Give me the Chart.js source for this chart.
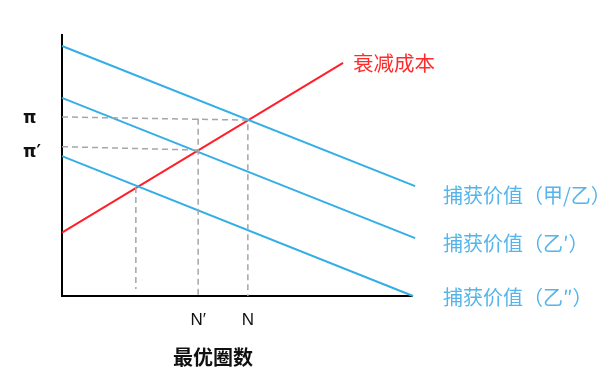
<!DOCTYPE html>
<html>
<head>
<meta charset="utf-8">
<script src="https://cdn.jsdelivr.net/npm/chart.js@4"></script>
<style>
body{margin:0;background:#fff;}
#wrap{width:613px;height:392px;position:relative;}
</style>
</head>
<body>
<div id="wrap"><canvas id="grafico"></canvas></div>
<script>
// ticks of the axes
var xTicks = [3.89, 5.31];
var xTickLabels = ["N′", "N"];
var yTicks = [5.5, 6.8];
var yTickLabels = ["π′", "π"];

// lines (two points each)
var costX = [0, 8.03];
var costY = [2.43, 8.93];
var valAX = [0, 10.09];
var valAY = [9.58, 4.21];
var valBX = [0, 10.09];
var valBY = [7.59, 2.22];
var valCX = [0, 10.03];
var valCY = [5.36, 0];

// dashed guide lines
var guidePiX = [0, 5.31, 5.31];
var guidePiY = [6.86, 6.74, 0];
var guidePi2X = [0, 3.89];
var guidePi2Y = [5.72, 5.59];
var guideN2X = [3.89, 3.89];
var guideN2Y = [6.79, 0];
var guideLowX = [2.11, 2.11];
var guideLowY = [4.18, 0.27];

var names = ["衰减成本", "捕获价值（甲/乙）", "捕获价值（乙′）", "捕获价值（乙″）"];
var xTitle = "最优圈数";

function pts(X, Y){
	var r = [];
	for (var i = 0; i < X.length; i++) r.push({x: X[i], y: Y[i]});
	return r;
}
function linea(X, Y, color){
	return {data: pts(X, Y), borderColor: color, borderWidth: 2, showLine: true, pointRadius: 0, clip: false};
}
function guia(X, Y){
	return {data: pts(X, Y), borderColor: "#a6a6a6", borderWidth: 1.5, borderDash: [6, 4], showLine: true, pointRadius: 0, clip: false};
}

var etiquetas = {
	id: "etiquetas",
	afterDraw: function(chart){
		var ctx = chart.ctx;
		ctx.save();
		ctx.textBaseline = "middle";
		ctx.textAlign = "left";
		ctx.font = "20.5px 'Noto Sans CJK SC'";
		ctx.fillStyle = "#ff2a2a";
		ctx.fillText(names[0], 353, 63);
		ctx.font = "20px 'Noto Sans CJK SC'";
		ctx.fillStyle = "#55b5ea";
		ctx.fillText(names[1], 443, 195);
		ctx.fillText(names[2], 443, 243);
		ctx.fillText(names[3], 443, 297);
		ctx.font = "bold 20px 'Noto Sans CJK SC'";
		ctx.fillStyle = "#111";
		ctx.textAlign = "center";
		ctx.fillText(xTitle, 213, 357);
		ctx.restore();
	}
};

new Chart(document.getElementById("grafico"), {
	type: "scatter",
	data: {
		datasets: [
			guia(guidePiX, guidePiY),
			guia(guidePi2X, guidePi2Y),
			guia(guideN2X, guideN2Y),
			guia(guideLowX, guideLowY),
			linea(valAX, valAY, "#33aee6"),
			linea(valBX, valBY, "#33aee6"),
			linea(valCX, valCY, "#33aee6"),
			linea(costX, costY, "#ff1f2a")
		]
	},
	options: {
		responsive: true,
		maintainAspectRatio: false,
		animation: false,
		layout: {padding: {left: 23, top: 35, right: 201, bottom: 0}},
		plugins: {legend: {display: false}, tooltip: {enabled: false}},
		scales: {
			x: {
				type: "linear", min: 0, max: 10,
				grid: {display: false, drawTicks: false},
				border: {display: true, color: "#000", width: 2},
				afterBuildTicks: function(s){ s.ticks = xTicks.map(function(v){ return {value: v}; }); },
				afterFit: function(s){ s.height = 96; },
				ticks: {
					autoSkip: false, maxRotation: 0, padding: 14, color: "#111",
					font: {family: "'Liberation Sans'", size: 17},
					callback: function(v, i){ return xTickLabels[i]; }
				}
			},
			y: {
				type: "linear", min: 0, max: 10,
				grid: {display: false, drawTicks: false},
				border: {display: true, color: "#000", width: 2},
				afterBuildTicks: function(s){ s.ticks = yTicks.map(function(v){ return {value: v}; }); },
				afterFit: function(s){ s.width = 39; },
				ticks: {
					autoSkip: false, crossAlign: "far", padding: 0, color: "#111",
					font: {family: "'DejaVu Sans'", size: 17, weight: "bold"},
					callback: function(v, i){ return yTickLabels[i]; }
				}
			}
		}
	},
	plugins: [etiquetas]
});
</script>
</body>
</html>
